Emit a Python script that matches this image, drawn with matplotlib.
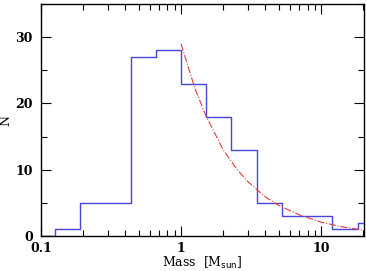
import numpy as np
import matplotlib
matplotlib.use('Agg')
import matplotlib.pyplot as plt
from matplotlib.ticker import LogLocator, FixedLocator, MultipleLocator, FixedFormatter

# histogram bins (log10 mass edges, 0.18 dex wide) and counts
log_edges = [-0.9, -0.72, -0.54, -0.36, -0.18, 0.0, 0.18, 0.36, 0.54, 0.72, 0.9, 1.08, 1.26, 1.44]
counts = [1, 5, 5, 27, 28, 23, 18, 13, 5, 3, 3, 1, 2]

# power-law fit
fit_mass = [1.0, 1.25, 1.5, 2.0, 2.5, 3.0, 4.0, 5.0, 7.0, 10.0, 14.0, 20.0]
fit_n = [29.0, 22.4, 18.2, 13.0, 10.1, 8.2, 5.9, 4.6, 3.2, 2.1, 1.4, 0.9]

plt.rcParams['font.family'] = 'DejaVu Serif'

fig = plt.figure(figsize=(3.66, 2.71), dpi=100)
ax = fig.add_axes([0.112, 0.129, 0.883, 0.856])

edges = 10 ** np.array(log_edges)
xs = np.concatenate([[0.1], edges])
ys = np.concatenate([[0, 0], counts])
ax.step(xs, ys, where='pre', color='#4646dc', lw=1.0)
ax.plot(fit_mass, fit_n, color='#e03c3c', lw=0.8, ls='-.')

ax.set_xscale('log')
ax.set_xlim(0.1, 20.3)
ax.set_ylim(0, 35)

ax.xaxis.set_major_locator(FixedLocator([0.1, 1, 10]))
ax.xaxis.set_major_formatter(FixedFormatter(['0.1', '1', '10']))
ax.xaxis.set_minor_locator(LogLocator(base=10, subs=np.arange(2, 10)))
ax.xaxis.set_minor_formatter(plt.NullFormatter())
ax.yaxis.set_major_locator(MultipleLocator(10))
ax.yaxis.set_minor_locator(MultipleLocator(5))

ax.tick_params(which='both', direction='in', top=True, right=True, width=0.8, labelsize=9)
ax.tick_params(which='major', length=7)
ax.tick_params(axis='x', which='major', pad=4)
ax.tick_params(axis='y', which='major', pad=6)
ax.tick_params(which='minor', length=4)
for lab in ax.get_xticklabels() + ax.get_yticklabels():
    lab.set_fontweight('bold')
for s in ax.spines.values():
    s.set_linewidth(1.0)

ax.set_xlabel(r'Mass  [M$_{\rm sun}$]', fontsize=9, labelpad=0)
ax.set_ylabel('N', fontsize=9)
ax.yaxis.set_label_coords(-0.09, 0.5)

fig.savefig('out.png', dpi=100)
